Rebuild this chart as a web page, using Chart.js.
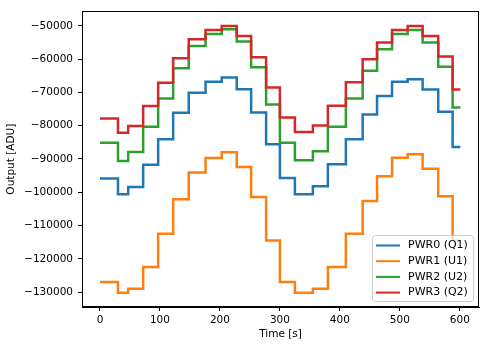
<!DOCTYPE html>
<html>
<head>
<meta charset="utf-8">
<script src="https://cdn.jsdelivr.net/npm/chart.js@4"></script>
<style>
  html, body { margin: 0; padding: 0; background: #fff; }
</style>
</head>
<body>
<canvas id="chart" width="490" height="347"></canvas>
<script>
// Step start times (s); the last entry closes the final step
const times = [0, 30, 47, 72, 97, 122, 148, 176, 203, 228, 252, 277,
               300, 325, 355, 380, 410, 438, 462, 487, 513, 538, 564, 588, 601];

// Output level of each channel during each step (ADU)
const pwr0 = [-95900, -100600, -98400, -91700, -84100, -76100, -70100, -66800, -65500, -69000, -76000, -85600,
              -95700, -100600, -98200, -91600, -84100, -76600, -71100, -66800, -66000, -69100, -75800, -86400, -86400];
const pwr1 = [-127000, -130200, -129000, -122500, -112500, -102100, -94100, -89700, -88000, -92400, -101400, -114500,
              -127000, -130200, -129000, -122500, -112500, -102600, -95200, -89600, -88600, -92900, -101200, -114500, -114500];
const pwr2 = [-85100, -90600, -87900, -80300, -71800, -62700, -56000, -52400, -51000, -54700, -62400, -73600,
              -85100, -90400, -87700, -80300, -71800, -63500, -57000, -52400, -51200, -55000, -62300, -74500, -74500];
const pwr3 = [-77800, -82100, -80100, -74100, -67100, -59700, -54000, -51200, -50000, -53000, -59400, -68500,
              -77500, -81900, -79900, -74000, -66900, -60000, -55000, -51200, -50000, -53000, -59200, -69100, -69100];

const seriesNames = ['PWR0 (Q1)', 'PWR1 (U1)', 'PWR2 (U2)', 'PWR3 (Q2)'];
const seriesColors = ['#1f77b4', '#ff7f0e', '#2ca02c', '#d62728'];

const xTicks = [0, 100, 200, 300, 400, 500, 600];
const yTicks = [-130000, -120000, -110000, -100000, -90000, -80000, -70000, -60000, -50000];

Chart.defaults.font.family = 'DejaVu Sans';
Chart.defaults.font.size = 10.5;
Chart.defaults.color = '#000';

function toPoints(values) {
    return values.map((v, i) => ({ x: times[i], y: v }));
}

const allSeries = [pwr0, pwr1, pwr2, pwr3];
const datasets = allSeries.map((vals, i) => ({
    label: seriesNames[i],
    data: toPoints(vals),
    borderColor: seriesColors[i],
    backgroundColor: seriesColors[i],
    borderWidth: 2.5,
    pointRadius: 0,
    stepped: true,
    fill: false,
    order: allSeries.length - 1 - i // later series on top, like matplotlib
}));

// black frame around the plot area
const framePlugin = {
    id: 'frame',
    afterDatasetsDraw(chart) {
        const { ctx, chartArea: a } = chart;
        ctx.save();
        ctx.strokeStyle = '#000';
        ctx.lineWidth = 1;
        ctx.strokeRect(Math.round(a.left) + 0.5, Math.round(a.top) + 0.5,
                       Math.round(a.right - a.left) - 1, Math.round(a.bottom - a.top) - 1);
        ctx.restore();
    }
};

// matplotlib-like legend inside the axes, lower right
const boxLegend = {
    id: 'boxLegend',
    afterDraw(chart) {
        const { ctx } = chart;
        const x = 372, y = 235, w = 101, h = 66, r = 3;
        ctx.save();
        ctx.beginPath();
        ctx.roundRect(x + 0.5, y + 0.5, w, h, r);
        ctx.fillStyle = 'rgba(255,255,255,0.8)';
        ctx.fill();
        ctx.strokeStyle = '#cccccc';
        ctx.lineWidth = 1;
        ctx.stroke();
        ctx.font = '11px "DejaVu Sans"';
        ctx.textBaseline = 'middle';
        ctx.fillStyle = '#000';
        seriesNames.forEach((name, i) => {
            const cy = y + 10.5 + i * 15.7;
            ctx.beginPath();
            ctx.moveTo(x + 4, cy);
            ctx.lineTo(x + 28, cy);
            ctx.strokeStyle = seriesColors[i];
            ctx.lineWidth = 2;
            ctx.stroke();
            ctx.fillText(name, x + 36, cy);
        });
        ctx.restore();
    }
};

const minus = v => (v < 0 ? '\u2212' : '') + Math.abs(v);

new Chart(document.getElementById('chart'), {
    type: 'line',
    data: { datasets: datasets },
    options: {
        responsive: false,
        animation: false,
        layout: { padding: { top: 11, right: 11, left: 0, bottom: 0 } },
        plugins: {
            legend: { display: false },
            tooltip: { enabled: false }
        },
        scales: {
            x: {
                type: 'linear',
                min: -30,
                max: 632,
                afterBuildTicks: s => { s.ticks = xTicks.map(v => ({ value: v })); },
                afterFit: s => { s.height = 40; },
                grid: { drawOnChartArea: false, tickLength: 4, color: '#000' },
                border: { color: '#000' },
                ticks: { padding: 3, maxRotation: 0, autoSkip: false, callback: v => String(v) },
                title: { display: true, text: 'Time [s]', padding: { top: 0, bottom: 6 } }
            },
            y: {
                type: 'linear',
                min: -134500,
                max: -45600,
                afterBuildTicks: s => { s.ticks = yTicks.map(v => ({ value: v })); },
                afterFit: s => { s.width = 82; },
                grid: { drawOnChartArea: false, tickLength: 4, color: '#000' },
                border: { color: '#000' },
                ticks: { padding: 5, autoSkip: false, callback: minus },
                title: { display: true, text: 'Output [ADU]', padding: { top: 5, bottom: 0 } }
            }
        }
    },
    plugins: [framePlugin, boxLegend]
});
</script>
</body>
</html>
